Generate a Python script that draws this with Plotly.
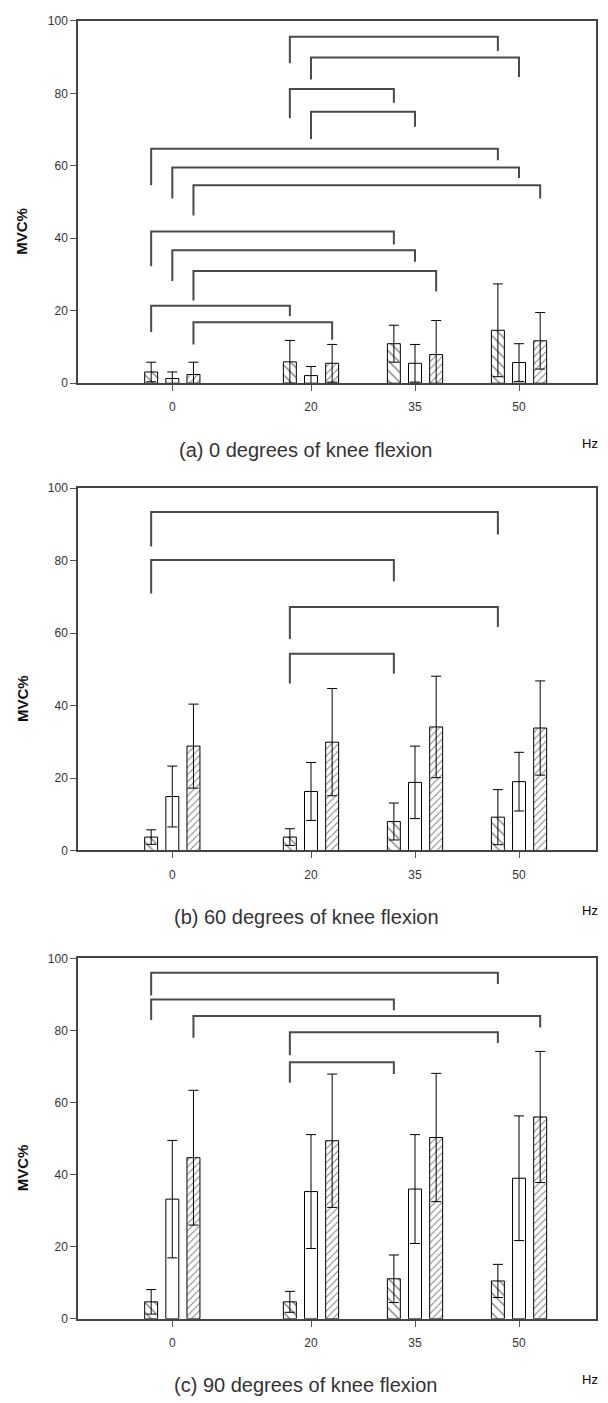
import plotly.graph_objects as go

# ---------------- data ----------------
freqs = [0, 20, 35, 50]
tick_labels = ["0", "20", "35", "50"]
captions = ["(a) 0 degrees of knee flexion",
            "(b) 60 degrees of knee flexion",
            "(c) 90 degrees of knee flexion"]

# panel (a) 0 degrees
a_s1 = [3.1, 5.9, 10.9, 14.6]
a_s1_sd = [2.7, 5.9, 5.1, 12.8]
a_s2 = [1.3, 2.1, 5.5, 5.7]
a_s2_sd = [1.8, 2.5, 5.2, 5.2]
a_s3 = [2.4, 5.5, 7.9, 11.7]
a_s3_sd = [3.4, 5.2, 9.4, 7.8]

# panel (b) 60 degrees
b_s1 = [3.7, 3.7, 8.0, 9.2]
b_s1_sd = [2.0, 2.3, 5.1, 7.6]
b_s2 = [14.9, 16.3, 18.8, 19.0]
b_s2_sd = [8.4, 8.0, 10.0, 8.1]
b_s3 = [28.8, 29.9, 34.1, 33.8]
b_s3_sd = [11.6, 14.8, 14.0, 13.0]

# panel (c) 90 degrees
c_s1 = [4.7, 4.7, 11.1, 10.5]
c_s1_sd = [3.4, 2.9, 6.6, 4.6]
c_s2 = [33.2, 35.3, 36.0, 39.0]
c_s2_sd = [16.3, 15.8, 15.1, 17.3]
c_s3 = [44.7, 49.4, 50.3, 56.0]
c_s3_sd = [18.7, 18.5, 17.8, 18.2]

# significance brackets: (group_from, series_from, group_to, series_to, top, left_end, right_end)
a_brackets = [
    (1, 0, 3, 0, 95.6, 88.3, 91.7),
    (1, 1, 3, 1, 89.9, 83.8, 84.5),
    (1, 0, 2, 0, 81.2, 73.1, 77.4),
    (1, 1, 2, 1, 74.9, 67.4, 70.8),
    (0, 0, 3, 0, 64.7, 54.6, 61.5),
    (0, 1, 3, 1, 59.5, 51.0, 56.6),
    (0, 2, 3, 2, 54.6, 46.3, 51.0),
    (0, 0, 2, 0, 41.9, 32.3, 38.3),
    (0, 1, 2, 1, 36.7, 28.2, 33.5),
    (0, 2, 2, 2, 31.0, 22.8, 25.3),
    (0, 0, 1, 0, 21.4, 14.1, 18.5),
    (0, 2, 1, 2, 16.8, 10.7, 12.0),
]
b_brackets = [
    (0, 0, 3, 0, 93.4, 83.9, 87.2),
    (0, 0, 2, 0, 80.2, 70.9, 74.3),
    (1, 0, 3, 0, 67.2, 58.4, 61.7),
    (1, 0, 2, 0, 54.3, 46.1, 48.8),
]
c_brackets = [
    (0, 0, 3, 0, 96.0, 89.7, 92.9),
    (0, 0, 2, 0, 88.6, 82.9, 85.6),
    (0, 2, 3, 2, 84.0, 78.0, 80.8),
    (1, 0, 3, 0, 79.5, 73.1, 76.5),
    (1, 0, 2, 0, 71.2, 65.5, 67.9),
]

panels = [
    ([a_s1, a_s2, a_s3], [a_s1_sd, a_s2_sd, a_s3_sd], a_brackets),
    ([b_s1, b_s2, b_s3], [b_s1_sd, b_s2_sd, b_s3_sd], b_brackets),
    ([c_s1, c_s2, c_s3], [c_s1_sd, c_s2_sd, c_s3_sd], c_brackets),
]

# ---------------- layout constants ----------------
W, H = 608, 1403
BARGAP = 0.39
BARGROUPGAP = 0.387
slot = 15 * (1 - BARGAP) / 3  # width of a bar slot in x units

x_left_px, x_right_px = 78, 596
panel_px = [(14, 380), (486, 852), (961, 1325)]  # (top, bottom) pixel rows
shapes_ = ["\\", "", "/"]
sizes_ = [7, 6, 5]

fig = go.Figure()

for p, (series, sds, brackets) in enumerate(panels):
    suffix = "" if p == 0 else str(p + 1)
    for s in range(3):
        fig.add_trace(go.Bar(
            x=freqs, y=series[s],
            xaxis="x" + suffix, yaxis="y" + suffix,
            offsetgroup=str(s),
            showlegend=False,
            marker=dict(color="white",
                        line=dict(color="black", width=1),
                        pattern=dict(shape=shapes_[s], fgcolor="black",
                                     bgcolor="white", size=sizes_[s], solidity=0.2)),
            error_y=dict(type="data", array=sds[s], symmetric=True,
                         color="black", thickness=1, width=5),
        ))
    bx, by = [], []
    for (g1, s1, g2, s2, top, lo1, lo2) in brackets:
        x1 = freqs[g1] + (s1 - 1) * slot
        x2 = freqs[g2] + (s2 - 1) * slot
        bx += [x1, x1, x2, x2, None]
        by += [lo1, top, top, lo2, None]
    fig.add_trace(go.Scatter(x=bx, y=by, mode="lines",
                             line=dict(color="#4a4a4a", width=2),
                             xaxis="x" + suffix, yaxis="y" + suffix,
                             showlegend=False, hoverinfo="skip"))

tick_font = dict(family="Liberation Sans Narrow, Arial Narrow, Liberation Sans, Arial",
                 size=12, color="#333333")

layout = dict(
    width=W, height=H,
    margin=dict(l=0, r=0, t=0, b=0),
    paper_bgcolor="white", plot_bgcolor="white",
    barmode="group", bargap=BARGAP, bargroupgap=BARGROUPGAP,
    annotations=[],
)
x_dom = [x_left_px / W, x_right_px / W]
for p, (top, bot) in enumerate(panel_px):
    suffix = "" if p == 0 else str(p + 1)
    ydom = [1 - bot / H, 1 - top / H]
    layout["xaxis" + suffix] = dict(
        domain=x_dom, range=[-13.6, 61.1], anchor="y" + suffix,
        tickmode="array", tickvals=freqs, ticktext=tick_labels,
        ticks="outside", ticklen=6, tickcolor="#555555", tickwidth=1,
        showgrid=False, zeroline=False,
        showline=True, linecolor="#444444", linewidth=1.5, mirror=True,
        tickfont=tick_font, ticklabelstandoff=6,
    )
    layout["yaxis" + suffix] = dict(
        domain=ydom, range=[0, 100], anchor="x" + suffix,
        tickvals=[0, 20, 40, 60, 80, 100],
        ticks="outside", ticklen=6, tickcolor="#555555", tickwidth=1,
        showgrid=False, zeroline=False,
        showline=True, linecolor="#444444", linewidth=1.5, mirror=True,
        tickfont=tick_font,
    )
    layout["annotations"] += [
        dict(text="<b>MVC%</b>", textangle=-90, xref="paper", yref="paper",
             x=22 / W, y=1 - (top + bot) / 2 / H - 30 / H,
             showarrow=False, font=dict(family="Liberation Sans, Arial", size=15, color="#111111"),
             xanchor="center", yanchor="middle"),
        dict(text=captions[p], xref="paper", yref="paper",
             x=306 / W, y=1 - (bot + 67) / H, showarrow=False,
             font=dict(family="Liberation Sans, Arial", size=20, color="#333333"),
             xanchor="center", yanchor="middle"),
        dict(text="Hz", xref="paper", yref="paper",
             x=590 / W, y=1 - (bot + 61) / H, showarrow=False,
             font=dict(family="Liberation Sans Narrow, Liberation Sans, Arial", size=13, color="black"),
             xanchor="center", yanchor="middle"),
    ]

fig.update_layout(**layout)
fig.write_html("out.html",
               config={"displayModeBar": False},
               post_script="document.body.style.margin='0';document.body.style.overflow='hidden';")
